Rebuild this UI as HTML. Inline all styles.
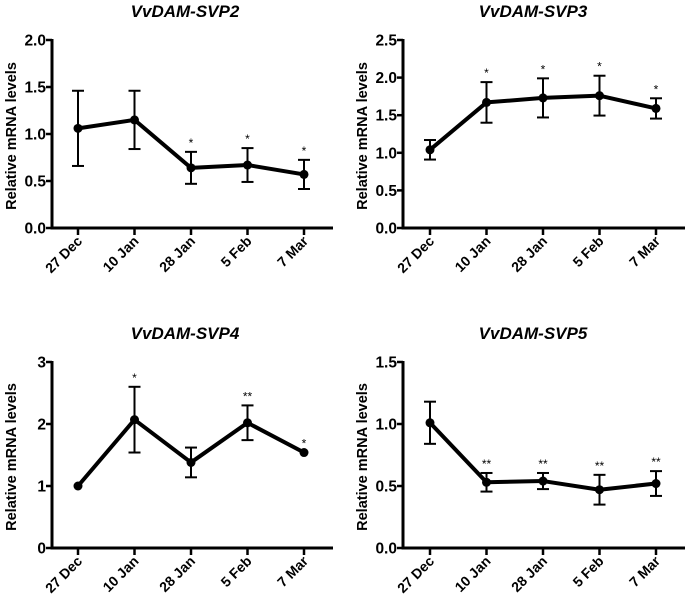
<!DOCTYPE html>
<html><head><meta charset="utf-8"><style>
html,body{margin:0;padding:0;background:#fff;width:685px;height:604px;overflow:hidden}
svg{display:block;font-family:"Liberation Sans",Arial,sans-serif;font-weight:bold}
</style></head><body>
<svg id="c" width="685" height="604"></svg>
<script>
const categories=["27 Dec","10 Jan","28 Jan","5 Feb","7 Mar"];
const titles=["VvDAM-SVP2","VvDAM-SVP3","VvDAM-SVP4","VvDAM-SVP5"];
const svp2Mean=[1.06,1.15,0.64,0.67,0.57];
const svp2Err=[0.40,0.31,0.17,0.18,0.155];
const svp2Sig=["","","*","*","*"];
const svp3Mean=[1.04,1.67,1.73,1.76,1.59];
const svp3Err=[0.13,0.27,0.26,0.265,0.135];
const svp3Sig=["","*","*","*","*"];
const svp4Mean=[1.0,2.07,1.38,2.02,1.54];
const svp4Err=[0,0.53,0.24,0.28,0];
const svp4Sig=["","*","","**","*"];
const svp5Mean=[1.01,0.53,0.54,0.47,0.52];
const svp5Err=[0.17,0.075,0.065,0.12,0.10];
const svp5Sig=["","**","**","**","**"];
const yMaxes=[2.0,2.5,3,1.5];
const yTicks=[[0,0.5,1,1.5,2],[0,0.5,1,1.5,2,2.5],[0,1,2,3],[0,0.5,1,1.5]];
const tickDigits=[1,1,0,1];
const means=[svp2Mean,svp3Mean,svp4Mean,svp5Mean];
const errs=[svp2Err,svp3Err,svp4Err,svp5Err];
const sigs=[svp2Sig,svp3Sig,svp4Sig,svp5Sig];
const layout=[{ax:52,top:40,bot:228,right:333,c0:78,step:56.5},{ax:403,top:40,bot:228,right:685,c0:430,step:56.5},
{ax:52,top:362,bot:548,right:333,c0:78,step:56.5},{ax:403,top:362,bot:548,right:685,c0:430,step:56.5}];
const NS="http://www.w3.org/2000/svg",svg=document.getElementById('c');
function mk(t,a,p){const e=document.createElementNS(NS,t);for(const k in a)e.setAttribute(k,a[k]);(p||svg).appendChild(e);return e;}
for(let p=0;p<4;p++){
 const L=layout[p];
 const g=mk('g',{});
 
 
 const y=v=>L.bot-(v/yMaxes[p])*(L.bot-L.top);
 const x=i=>L.c0+i*L.step;
 const t=mk('text',{x:p%2?533:185,y:L.top-23,'text-anchor':'middle','font-size':17,'font-style':'italic'},g);t.textContent=titles[p];
 
 const yt=mk('text',{transform:`translate(${L.ax-36},${(L.top+L.bot)/2+2}) rotate(-90)`,'text-anchor':'middle','font-size':14.5},g);yt.textContent="Relative mRNA levels";
 
 const ya=mk('line',{x1:L.ax,x2:L.ax,y1:L.top-1,y2:L.bot+1.5,stroke:'#000','stroke-width':3},g);
 
 const xa=mk('line',{x1:L.ax-1.5,x2:L.right,y1:L.bot,y2:L.bot,stroke:'#000','stroke-width':3},g);
 
 yTicks[p].forEach(v=>{
  mk('line',{x1:L.ax-6,x2:L.ax,y1:y(v),y2:y(v),stroke:'#000','stroke-width':2.5},g);
  const tl=mk('text',{x:L.ax-6,y:y(v)+5.5,'text-anchor':'end','font-size':15.5},g);tl.textContent=v.toFixed(tickDigits[p]);
  
 });
 categories.forEach((c,i)=>{
  mk('line',{x1:x(i),x2:x(i),y1:L.bot,y2:L.bot+7,stroke:'#000','stroke-width':2.5},g);
  const xl=mk('text',{transform:`translate(${x(i)+5},${L.bot+14}) rotate(-45)`,'text-anchor':'end','font-size':14},g);xl.textContent=c;
  
 });
 const pts=means[p].map((m,i)=>x(i)+','+y(m)).join(' ');
 const ln=mk('polyline',{points:pts,fill:'none',stroke:'#000','stroke-width':4,'stroke-linejoin':'round'},g);
 
 means[p].forEach((m,i)=>{
  const e=errs[p][i];
  if(e>0){
   mk('line',{x1:x(i),x2:x(i),y1:y(m+e),y2:y(m-e),stroke:'#000','stroke-width':2},g);
   mk('line',{x1:x(i)-6,x2:x(i)+6,y1:y(m+e),y2:y(m+e),stroke:'#000','stroke-width':2},g);
   mk('line',{x1:x(i)-6,x2:x(i)+6,y1:y(m-e),y2:y(m-e),stroke:'#000','stroke-width':2},g);
  }
  const d=mk('circle',{cx:x(i),cy:y(m),r:4.5,fill:'#000'},g);
  
  if(sigs[p][i]){const s=mk('text',{x:x(i),y:y(m+e)-5,'text-anchor':'middle','font-size':12,'font-weight':'normal'},g);s.textContent=sigs[p][i];
   }
 });
}
</script>
</body></html>
